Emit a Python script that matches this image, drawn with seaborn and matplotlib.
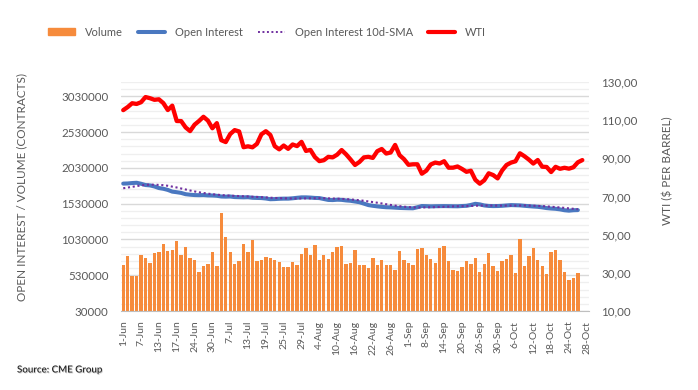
import numpy as np
import pandas as pd
import matplotlib
matplotlib.use("Agg")
import matplotlib.pyplot as plt
import matplotlib.patheffects as pe
from matplotlib.lines import Line2D
from matplotlib.patches import Patch
import seaborn as sns

# trading days 1-Jun-2022 .. 28-Oct-2022 (US holidays removed)
days = pd.bdate_range("2022-06-01", "2022-10-28", freq="C",
                      holidays=["2022-06-20", "2022-07-04", "2022-09-05"])

tick_labels = ["1-Jun", "7-Jun", "13-Jun", "17-Jun", "24-Jun", "30-Jun", "7-Jul",
               "13-Jul", "19-Jul", "25-Jul", "29-Jul", "4-Aug", "10-Aug", "16-Aug",
               "22-Aug", "26-Aug", "1-Sep", "8-Sep", "14-Sep", "20-Sep", "26-Sep",
               "30-Sep", "6-Oct", "12-Oct", "18-Oct", "24-Oct", "28-Oct"]

# volume (contracts), data up to 26-Oct
volume = [673000, 799000, 519000, 519000, 813000, 771000, 701000, 841000, 855000, 966000,
          868000, 882000, 1008000, 813000, 924000, 771000, 743000, 575000, 659000, 687000,
          855000, 659000, 1399000, 1064000, 855000, 687000, 729000, 966000, 855000, 1022000,
          729000, 743000, 785000, 771000, 743000, 715000, 645000, 645000, 715000, 673000,
          827000, 910000, 813000, 952000, 743000, 813000, 757000, 855000, 924000, 938000,
          687000, 701000, 882000, 673000, 673000, 631000, 771000, 673000, 743000, 673000,
          673000, 603000, 868000, 743000, 701000, 673000, 896000, 910000, 813000, 757000,
          701000, 910000, 938000, 729000, 603000, 589000, 645000, 729000, 687000, 771000,
          575000, 687000, 841000, 659000, 589000, 729000, 757000, 813000, 561000, 1036000,
          659000, 799000, 910000, 743000, 659000, 547000, 855000, 882000, 743000, 575000,
          463000, 491000, 561000]

open_interest = [1810000, 1812000, 1818000, 1822000, 1808000, 1790000, 1785000, 1770000, 1748000, 1738000,
                 1722000, 1698000, 1690000, 1680000, 1662000, 1655000, 1650000, 1648000, 1650000, 1645000,
                 1644000, 1640000, 1630000, 1628000, 1630000, 1622000, 1620000, 1618000, 1620000, 1612000,
                 1610000, 1608000, 1602000, 1592000, 1594000, 1598000, 1600000, 1600000, 1605000, 1612000,
                 1618000, 1618000, 1615000, 1610000, 1608000, 1595000, 1582000, 1580000, 1585000, 1583000,
                 1575000, 1570000, 1560000, 1550000, 1530000, 1510000, 1500000, 1492000, 1485000, 1480000,
                 1478000, 1474000, 1470000, 1468000, 1466000, 1465000, 1480000, 1497000, 1495000, 1492000,
                 1494000, 1495000, 1496000, 1495000, 1494000, 1493000, 1497000, 1500000, 1512000, 1528000,
                 1520000, 1505000, 1498000, 1496000, 1497000, 1500000, 1505000, 1510000, 1508000, 1506000,
                 1500000, 1495000, 1490000, 1486000, 1478000, 1468000, 1462000, 1458000, 1450000, 1438000,
                 1432000, 1438000, 1440000]

oi_sma10 = [1745000, 1755000, 1765000, 1775000, 1785000, 1792000, 1796000, 1795000, 1792000, 1788000,
            1780000, 1768000, 1756000, 1742000, 1728000, 1714000, 1701000, 1689000, 1679000, 1670000,
            1662000, 1656000, 1650000, 1645000, 1642000, 1639000, 1636000, 1633000, 1630000, 1627000,
            1624000, 1620000, 1617000, 1613000, 1610000, 1607000, 1605000, 1603000, 1602000, 1602000,
            1603000, 1604000, 1605000, 1606000, 1607000, 1606000, 1604000, 1602000, 1600000, 1597000,
            1594000, 1589000, 1584000, 1578000, 1570000, 1561000, 1552000, 1543000, 1533000, 1522000,
            1512000, 1503000, 1495000, 1488000, 1482000, 1478000, 1476000, 1477000, 1478000, 1480000,
            1482000, 1484000, 1486000, 1489000, 1492000, 1494000, 1495000, 1496000, 1498000, 1501000,
            1503000, 1504000, 1504000, 1503000, 1503000, 1503000, 1503000, 1503000, 1503000, 1504000,
            1505000, 1503000, 1501000, 1499000, 1496000, 1492000, 1487000, 1482000, 1477000, 1471000,
            1464000, 1458000, 1452000]

# WTI ($/bbl), data up to 27-Oct
wti = [115.26, 116.87, 118.87, 118.50, 119.41, 122.11, 121.51, 120.67, 120.93, 118.93,
       115.31, 117.59, 109.56, 109.52, 106.19, 104.27, 107.62, 109.57, 111.76, 109.78,
       105.76, 108.43, 99.50, 98.53, 102.73, 104.79, 104.09, 95.84, 96.30, 95.78,
       97.59, 102.60, 104.22, 102.26, 96.35, 94.70, 96.70, 94.98, 97.26, 96.42,
       98.62, 93.89, 94.42, 90.66, 88.54, 89.01, 90.76, 90.50, 91.93, 94.34,
       92.09, 89.41, 86.53, 88.11, 90.50, 90.77, 90.23, 93.74, 94.89, 92.52,
       93.06, 97.01, 91.64, 89.55, 86.61, 86.87, 86.88, 81.94, 83.54, 86.79,
       87.78, 87.31, 88.48, 85.10, 85.11, 85.73, 84.45, 82.94, 83.49, 78.74,
       76.71, 78.50, 82.15, 81.23, 79.49, 83.63, 86.52, 87.76, 88.45, 92.64,
       91.13, 89.35, 87.27, 89.11, 85.61, 85.46, 82.82, 85.55, 84.51, 85.05,
       84.58, 85.32, 87.91, 89.08]

n = len(days)
pos = np.arange(n)


def pad(vals):
    return list(vals) + [np.nan] * (n - len(vals))


df = pd.DataFrame({"pos": pos, "volume": pad(volume), "oi": pad(open_interest),
                   "sma": pad(oi_sma10), "wti": pad(wti)})

sns.set_style("white")
plt.rcParams["font.family"] = ["Lato", "DejaVu Sans"]
gray = "#595959"
orange = "#F68B3C"

fig = plt.figure(figsize=(6.98, 3.9), dpi=100)
ax = fig.add_axes([121 / 698, 1 - 311 / 390, 468 / 698, 229 / 390])

sns.barplot(data=df, x="pos", y="volume", order=list(pos), color=orange,
            saturation=1, width=0.76, errorbar=None, linewidth=0, ax=ax, zorder=2)
sns.lineplot(data=df, x="pos", y="oi", color="#4A78C0", linewidth=2.9,
             ax=ax, zorder=3, solid_capstyle="round")
sns.lineplot(data=df, x="pos", y="sma", color="#7030A0", linewidth=1.5,
             linestyle=(0, (1, 1.3)), ax=ax, zorder=4)

ax.set_xlim(-0.5, n - 0.5)
ax.set_ylim(30000, 3230000)
ax.set_yticks(np.arange(30000, 3030001, 500000))
ax.set_yticklabels([str(v) for v in range(30000, 3030001, 500000)])
ax.set_yticks(np.arange(130000, 3230001, 100000), minor=True)
ax.grid(which="major", axis="y", color="#d9d9d9", linewidth=1.0)
ax.grid(which="minor", axis="y", color="#efefef", linewidth=0.9)
ax.set_axisbelow(True)

ax.set_xticks(pos[::4])
ax.set_xticklabels(tick_labels, rotation=90)
ax.set_xticks(np.arange(-0.5, n, 1), minor=True)
ax.tick_params(axis="x", which="major", length=0, pad=7, labelsize=7.5, labelcolor=gray)
ax.tick_params(axis="x", which="minor", length=3.5, color="#bfbfbf", width=0.8)
ax.tick_params(axis="y", which="both", length=0, pad=9, labelsize=8.3, labelcolor=gray)
ax.set_xlabel("")
ax.set_ylabel("")
for s in ["top", "left", "right"]:
    ax.spines[s].set_visible(False)
ax.spines["bottom"].set_color("#bfbfbf")
ax.spines["bottom"].set_linewidth(0.8)

ax2 = ax.twinx()
sns.lineplot(data=df, x="pos", y="wti", color="#FF0000", linewidth=3.1,
             ax=ax2, zorder=5, solid_capstyle="round")
ax2.set_ylim(10, 130)
ax2.set_yticks(np.arange(10, 131, 20))
ax2.set_yticklabels([f"{v},00" for v in range(10, 131, 20)])
ax2.tick_params(axis="y", length=0, pad=9, labelsize=8.3, labelcolor=gray)
ax2.set_ylabel("")
ax2.grid(False)
for s in ax2.spines.values():
    s.set_visible(False)

fig.text(22 / 698, 1 - 187 / 390, "OPEN INTEREST / VOLUME (CONTRACTS)", rotation=90,
         ha="center", va="center", fontsize=8.5, color=gray)
fig.text(668 / 698, 1 - 171 / 390, "WTI ($ PER BARREL)", rotation=90,
         ha="center", va="center", fontsize=8.5, color=gray)

handles = [Patch(color=orange),
           Line2D([], [], color="#4A78C0", linewidth=2.9, solid_capstyle="round"),
           Line2D([], [], color="#7030A0", linewidth=1.4, linestyle=(0, (1, 1.3))),
           Line2D([], [], color="#FF0000", linewidth=3.0, solid_capstyle="round")]
fig.legend(handles, ["Volume", "Open Interest", "Open Interest 10d-SMA", "WTI"],
           loc="center", bbox_to_anchor=(267 / 698, 1 - 32 / 390), ncol=4,
           frameon=False, fontsize=8.0, labelcolor=gray, handlelength=2.4,
           handleheight=0.6, handletextpad=0.9, columnspacing=1.4)

fig.text(17 / 698, 1 - 370 / 390, "Source: CME Group", ha="left", va="center",
         fontsize=7, color="#262626", fontweight="semibold",
         path_effects=[pe.withSimplePatchShadow(offset=(0.6, -0.6), shadow_rgbFace="#999999", alpha=0.5)])

fig.savefig("out.png", dpi=100)
